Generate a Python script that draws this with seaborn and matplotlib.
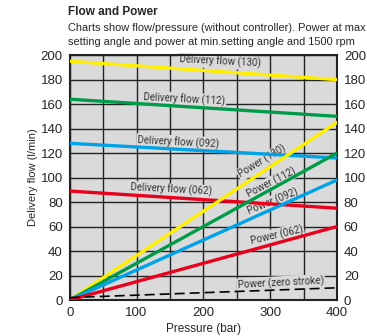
import matplotlib
matplotlib.use("Agg")
import matplotlib.pyplot as plt
import numpy as np
import pandas as pd
import seaborn as sns
from matplotlib.ticker import MultipleLocator

pressure = [0, 400]
sizes = ["130", "112", "092", "062"]
flow_130 = [195, 180]
flow_112 = [164, 150]
flow_092 = [128, 116]
flow_062 = [89, 75]
power_130 = [0, 145]
power_112 = [0, 120]
power_092 = [0, 98]
power_062 = [0, 60]
power_zero = [2, 10]

colors = {"130": "#ffee00", "112": "#009b48", "092": "#00a3e8", "062": "#e8001c"}

flows = {"130": flow_130, "112": flow_112, "092": flow_092, "062": flow_062}
powers = {"130": power_130, "112": power_112, "092": power_092, "062": power_062}

rows = []
for s in sizes:
    for p, f in zip(pressure, flows[s]):
        rows.append({"pressure": p, "value": f, "size": s, "kind": "flow"})
    for p, w in zip(pressure, powers[s]):
        rows.append({"pressure": p, "value": w, "size": s, "kind": "power"})
df = pd.DataFrame(rows)

sns.set_style("white")
plt.rcParams["font.family"] = ["Liberation Sans", "DejaVu Sans"]

fig = plt.figure(figsize=(3.67, 3.36), dpi=100)
ax = fig.add_axes([0.19, 0.107, 0.728, 0.729])
ax.set_facecolor("#dadada")

for kind in ["flow", "power"]:
    sns.lineplot(data=df[df["kind"] == kind], x="pressure", y="value", hue="size",
                 palette=colors, linewidth=2.4, legend=False, ax=ax, zorder=3)
zero_df = pd.DataFrame({"pressure": pressure, "value": power_zero})
sns.lineplot(data=zero_df, x="pressure", y="value", color="black", linewidth=1.2,
             ax=ax, zorder=3)
ax.lines[-1].set_linestyle((0, (6, 3)))

ax.set_xlim(0, 400)
ax.set_ylim(0, 200)
ax.xaxis.set_major_locator(MultipleLocator(100))
ax.xaxis.set_minor_locator(MultipleLocator(50))
ax.yaxis.set_major_locator(MultipleLocator(20))
ax.grid(which="both", color="#222222", linewidth=1.0, zorder=1)
ax.set_axisbelow(True)
for sp in ax.spines.values():
    sp.set_color("#222222")
    sp.set_linewidth(1.5)
ax.tick_params(axis="both", length=0, labelsize=9.5, pad=5)
ax.tick_params(axis="y", labelright=True, right=False)

ax.set_xlabel("Pressure (bar)", fontsize=8.5, labelpad=3)
ax.set_ylabel("Delivery flow (l/min)", fontsize=8, labelpad=2)

lab = dict(fontsize=7.1, color="#333333", family="Roboto", ha="center", va="center",
           zorder=2, bbox=dict(boxstyle="square,pad=0.1", fc="#dadada", ec="none"))
ax.text(225, 194.5, "Delivery flow (130)", rotation=-3, **lab)
ax.text(172, 164, "Delivery flow (112)", rotation=-3, **lab)
ax.text(163, 129, "Delivery flow (092)", rotation=-3, **lab)
ax.text(152, 90, "Delivery flow (062)", rotation=-3, **lab)
ax.text(288, 113, "Power (130)", rotation=31, **lab)
ax.text(302, 95.5, "Power (112)", rotation=27, **lab)
ax.text(304, 80, "Power (092)", rotation=22, **lab)
ax.text(310, 53, "Power (062)", rotation=13, **lab)
ax.text(316, 14, "Power (zero stroke)", rotation=3, **lab)

fig.text(0.185, 0.965, "Flow and Power", fontsize=8.5, fontweight="bold", va="center")
fig.text(0.185, 0.917, "Charts show flow/pressure (without controller). Power at max",
         fontsize=7.9, va="center")
fig.text(0.185, 0.875, "setting angle and power at min.setting angle and 1500 rpm",
         fontsize=7.9, va="center")

fig.savefig("out.png", dpi=100)
